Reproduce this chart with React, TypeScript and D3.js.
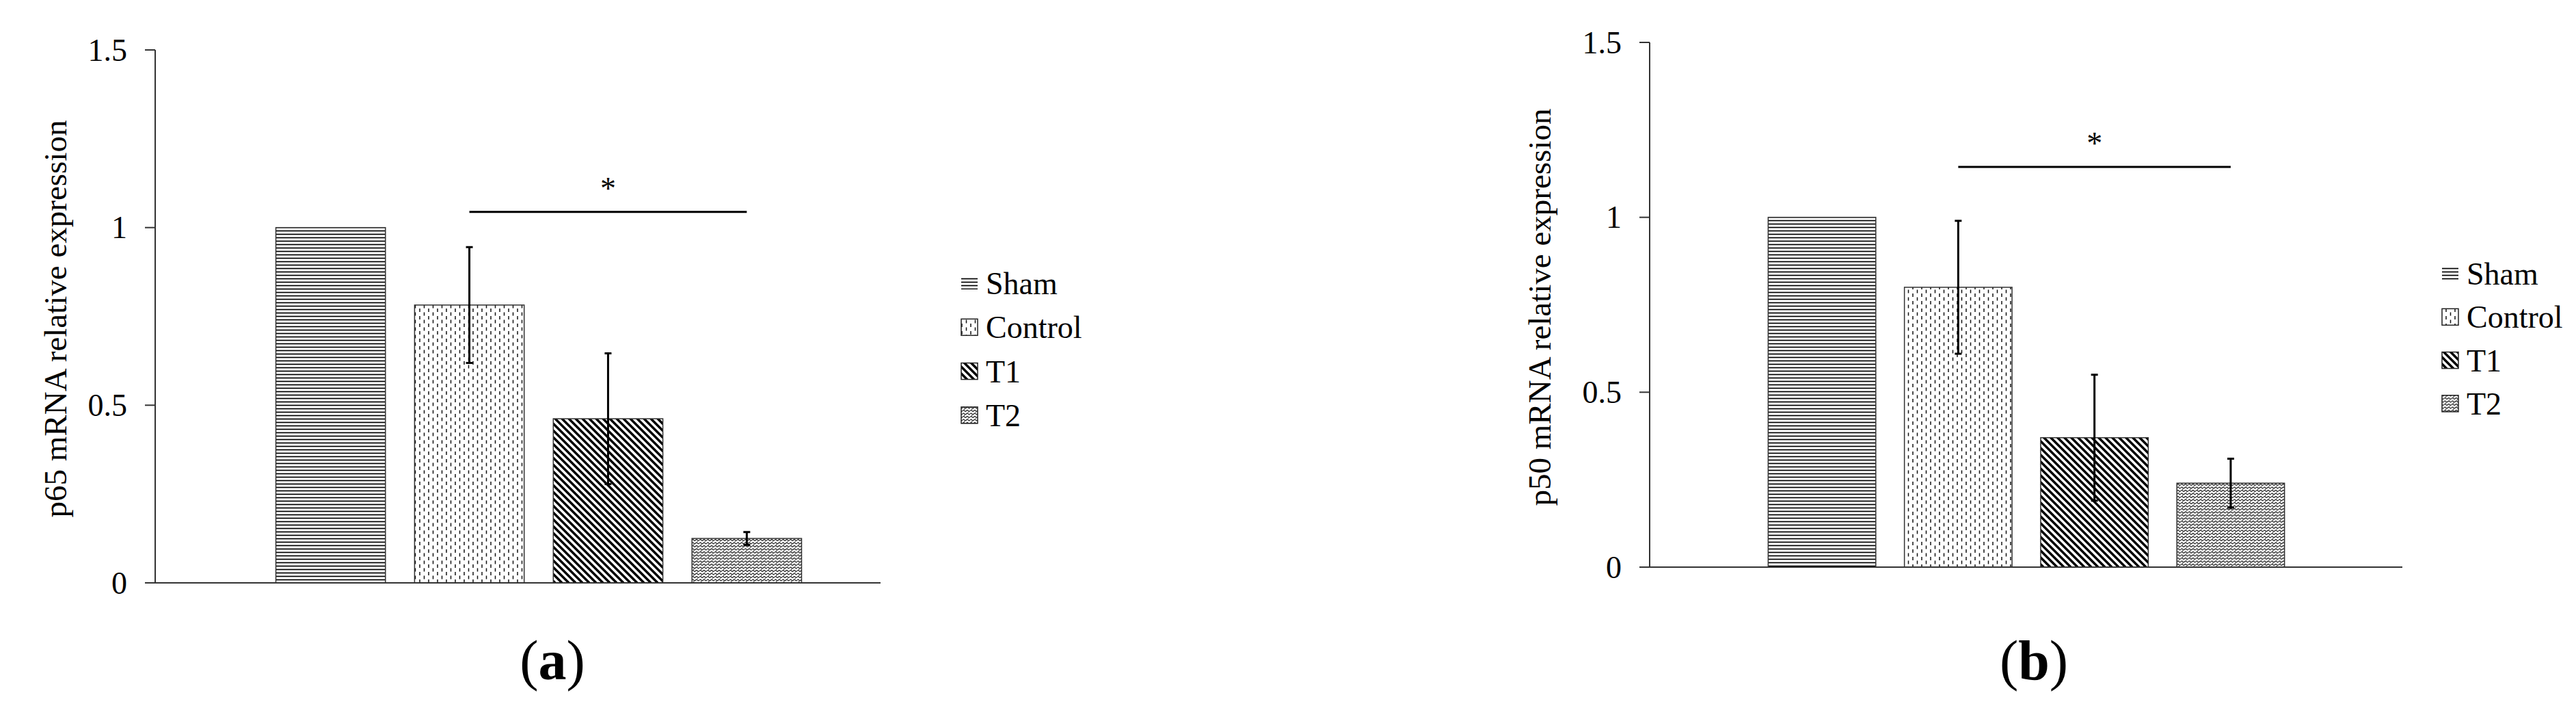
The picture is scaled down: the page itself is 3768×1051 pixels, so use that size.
import React from 'react';
import * as d3 from "d3";

const series = ["Sham", "Control", "T1", "T2"];
const yTicks = [0, 0.5, 1, 1.5];

// panel (a) p65
const p65Means = [1.0, 0.782, 0.462, 0.125];
const p65Errors = [0, 0.163, 0.184, 0.018];
const p65Sig = 1.044;

// panel (b) p50
const p50Means = [1.0, 0.80, 0.37, 0.24];
const p50Errors = [0, 0.19, 0.18, 0.07];
const p50Sig = 1.144;

const patterns = ["pat-sham", "pat-control", "pat-t1", "pat-t2"];
const font = "'Liberation Serif', 'Times New Roman', serif";

const Patterns = () => (
    <defs>
        <pattern id="pat-sham" patternUnits="userSpaceOnUse" width="8" height="5">
            <rect width="8" height="5" fill="#fff" />
            <line x1="0" x2="8" y1="2.5" y2="2.5" stroke="#000" strokeWidth="1.7" />
        </pattern>
        <pattern id="pat-control" patternUnits="userSpaceOnUse" width="13" height="11">
            <rect width="13" height="11" fill="#fff" />
            <line x1="3" x2="3" y1="0" y2="5" stroke="#111" strokeWidth="1.5" />
            <line x1="9.5" x2="9.5" y1="5.5" y2="10.5" stroke="#111" strokeWidth="1.5" />
        </pattern>
        <pattern id="pat-t1" patternUnits="userSpaceOnUse" width="10" height="10">
            <rect width="10" height="10" fill="#fff" />
            <path d="M-2.5,-2.5 L12.5,12.5 M-2.5,7.5 L2.5,12.5 M7.5,-2.5 L12.5,2.5" stroke="#000" strokeWidth="3.5" />
        </pattern>
        <pattern id="pat-t2" patternUnits="userSpaceOnUse" width="11" height="9">
            <rect width="11" height="9" fill="#fff" />
            <path d="M0,2 C2.7,-1 2.7,5 5.5,2 C8.2,-1 8.2,5 11,2 M0,6.5 C2.7,3.5 2.7,9.5 5.5,6.5 C8.2,3.5 8.2,9.5 11,6.5 M2.7,3.5 L2.7,5 M8.2,8 L8.2,9.5"
                fill="none" stroke="#1a1a1a" strokeWidth="1.1" />
        </pattern>
    </defs>
);

const Panel = ({ means, errors, sig, x0, x1, axisEnd, y0, y1, label, labelX, labelY, legendX, legendY, legendStep, tag, tagX }) => {
    const y = d3.scaleLinear().domain([0, 1.5]).range([y0, y1]);
    const x = d3.scaleBand().domain(series).range([x0, x1]).paddingInner(0.21).paddingOuter(0.87);
    const cx = (s) => x(s) + x.bandwidth() / 2;
    const sigPx = y(sig);

    return (
        <g fontFamily={font}>
            {means.map((m, i) => (
                <rect key={series[i]} x={x(series[i])} y={y(m)} width={x.bandwidth()} height={y(0) - y(m)}
                    fill={`url(#${patterns[i]})`} stroke="#333" strokeWidth="1.5" />
            ))}
            {errors.map((e, i) => e > 0 && (
                <g key={i} stroke="#000" strokeWidth="3">
                    <line x1={cx(series[i])} x2={cx(series[i])} y1={y(means[i] + e)} y2={y(means[i] - e)} />
                    <line x1={cx(series[i]) - 5} x2={cx(series[i]) + 5} y1={y(means[i] + e)} y2={y(means[i] + e)} />
                    <line x1={cx(series[i]) - 5} x2={cx(series[i]) + 5} y1={y(means[i] - e)} y2={y(means[i] - e)} />
                </g>
            ))}

            {/* axes */}
            <line x1={x0} x2={x0} y1={y(1.5)} y2={y(0)} stroke="#333" strokeWidth="2" />
            <line x1={x0} x2={axisEnd} y1={y(0)} y2={y(0)} stroke="#333" strokeWidth="2" />
            {yTicks.map(t => (
                <g key={t}>
                    <line x1={x0 - 15} x2={x0} y1={y(t)} y2={y(t)} stroke="#333" strokeWidth="2" />
                    <text x={x0 - 41} y={y(t)} dy="0.34em" textAnchor="end" fontSize="46">{t}</text>
                </g>
            ))}
            <text transform={`translate(${labelX}, ${labelY}) rotate(-90)`} textAnchor="middle" fontSize="47">{label}</text>

            {/* significance */}
            <line x1={cx("Control")} x2={cx("T2")} y1={sigPx} y2={sigPx} stroke="#000" strokeWidth="3" />
            <text x={(cx("Control") + cx("T2")) / 2} y={sigPx - 19} textAnchor="middle" fontSize="46">*</text>

            {/* legend */}
            {series.map((s, i) => {
                const ly = legendY + i * legendStep;
                return (
                    <g key={s}>
                        {i === 0
                            ? <rect x={legendX} y={ly - 9} width="24" height="18" fill={`url(#${patterns[i]})`} />
                            : <rect x={legendX} y={ly - 12} width="24" height="24" fill={`url(#${patterns[i]})`} stroke="#222" strokeWidth="1.5" />}
                        <text x={legendX + 36} y={ly + 16} fontSize="46">{s}</text>
                    </g>
                );
            })}

            <text x={tagX} y={993} textAnchor="middle" fontSize="82">
                (<tspan fontWeight="bold">{tag}</tspan>)
            </text>
        </g>
    );
};

const App = () => (
    <svg width={3768} height={1051} style={{ position: 'absolute', left: 0, top: 0, background: '#fff' }}>
        <Patterns />
        <Panel means={p65Means} errors={p65Errors} sig={p65Sig}
            x0={227} x1={1349} axisEnd={1288} y0={852} y1={73}
            label="p65 mRNA relative expression" labelX={97} labelY={466}
            legendX={1406} legendY={414} legendStep={64.3} tag="a" tagX={808} />
        <Panel means={p50Means} errors={p50Errors} sig={p50Sig}
            x0={2413} x1={3515} axisEnd={3514} y0={829} y1={62}
            label="p50 mRNA relative expression" labelX={2268} labelY={449}
            legendX={3572} legendY={400} legendStep={63.3} tag="b" tagX={2975} />
    </svg>
);

export default App;
